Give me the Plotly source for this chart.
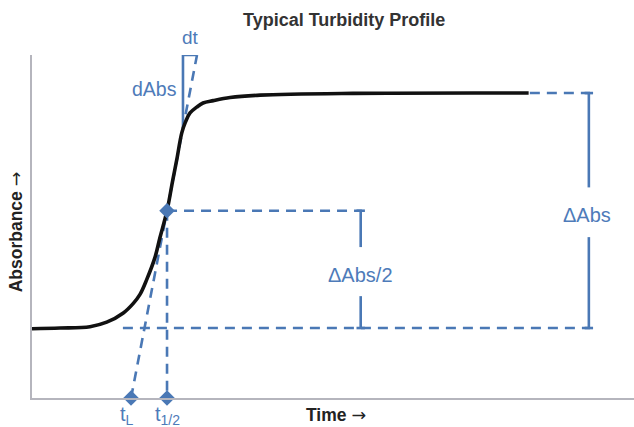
import plotly.graph_objects as go

# ---- data ----
time = [0, 4.65, 9.63, 12.41, 15.17, 16.83, 17.94, 19.05, 20.43, 21.26, 22.43, 23.39, 24.04,
        24.88, 25.5, 26.25, 27.36, 28.41, 30.12, 32.9, 37.9, 53.3, 82.5]
absorbance = [0.202, 0.204, 0.208, 0.221, 0.248, 0.276, 0.302, 0.345, 0.41, 0.468, 0.546, 0.636, 0.694,
              0.773, 0.805, 0.831, 0.848, 0.860, 0.867, 0.876, 0.883, 0.888, 0.889]

t_lag = 16.45        # t_L
t_half = 22.43       # t_1/2
abs_base = 0.204     # baseline absorbance
abs_max = 0.889      # plateau absorbance
abs_half = 0.546     # half-way absorbance
dt_x = [25.08, 27.41]  # dt triangle: vertical leg x, tangent end x
dt_top = 1.0
bracket_full_x = 92.5
bracket_half_x = 54.6
line_end_x = 92.7
plateau_dash_start = 82.7
baseline_dash_start = 15.1
half_dash_end = 54.8

BLUE = "#4a78b5"
TXT_BLUE = "#4e7bb9"
FONT = "Liberation Sans, Arial, sans-serif"
ARROW = '<span style="font-family:DejaVu Sans;font-weight:normal">→</span>'

fig = go.Figure()

def seg(xs, ys, dash=None, width=2.6, color=BLUE):
    fig.add_trace(go.Scatter(
        x=xs, y=ys, mode="lines", hoverinfo="skip", showlegend=False,
        line=dict(color=color, width=width, dash=dash), cliponaxis=False))

D = "10px,7px"
# baseline, plateau and half dashed lines
seg([baseline_dash_start, line_end_x], [abs_base, abs_base], D)
seg([plateau_dash_start, line_end_x], [abs_max, abs_max], D)
seg([t_half, half_dash_end], [abs_half, abs_half], D)
# vertical dashed at t_1/2
seg([t_half, t_half], [abs_half, 0], D)
# tangent line
seg([t_lag, dt_x[1]], [0, dt_top], D)

# dt triangle legs (solid)
tan_y_at_leg = (dt_x[0] - t_lag) / (dt_x[1] - t_lag) * dt_top
seg([dt_x[0], dt_x[0], dt_x[1]], [tan_y_at_leg, dt_top, dt_top])

# Delta Abs bracket
cap = 0.7
seg([bracket_full_x, bracket_full_x], [abs_max, 0.614])
seg([bracket_full_x, bracket_full_x], [0.469, abs_base])
seg([bracket_full_x - cap, bracket_full_x + cap], [abs_max, abs_max])
seg([bracket_full_x - cap, bracket_full_x + cap], [abs_base, abs_base])
# Delta Abs/2 bracket
seg([bracket_half_x, bracket_half_x], [abs_half, 0.440])
seg([bracket_half_x, bracket_half_x], [0.297, abs_base])
seg([bracket_half_x - cap, bracket_half_x + cap], [abs_half, abs_half])
seg([bracket_half_x - cap, bracket_half_x + cap], [abs_base, abs_base])

# turbidity curve
fig.add_trace(go.Scatter(
    x=time, y=absorbance, mode="lines",
    line=dict(color="#111111", width=3.6, shape="spline", smoothing=1.0),
    hoverinfo="skip", showlegend=False))

# diamonds
fig.add_trace(go.Scatter(
    x=[t_lag, t_half, t_half], y=[0, 0, abs_half], mode="markers",
    marker=dict(symbol="diamond", size=12, color=BLUE), cliponaxis=False,
    hoverinfo="skip", showlegend=False))

ann = []
def label(text, x, y, size=19, xanchor="center", yanchor="middle", color=TXT_BLUE, **kw):
    ann.append(dict(text=text, x=x, y=y, showarrow=False, xanchor=xanchor, yanchor=yanchor,
                    font=dict(family=FONT, size=size, color=color), **kw))

label("dAbs", 24.4, 0.901, size=19.5, xanchor="right")
label("dt", 0.263, 1.05, xref="paper", yref="paper")
label("ΔAbs", 92.2, 0.534, size=20)
label("ΔAbs/2", 54.5, 0.359, size=20)
label("t<sub>L</sub>", t_lag - 0.6, 0, size=20, yanchor="top", yshift=-3)
label("t<sub>1/2</sub>", t_half, 0, size=20, yanchor="top", yshift=-3)
label("<b>Time</b> " + ARROW, 0.505, -0.05, size=17.5, color="#222222", xref="paper", yref="paper")
label("<b>Absorbance</b> " + ARROW, -0.026, 0.484, size=17.5, color="#222222",
      xref="paper", yref="paper", textangle=-90)
label("<b>Typical Turbidity Profile</b>", 0.518, 1.102, size=18, color="#333333", xref="paper", yref="paper")

fig.update_layout(
    width=634, height=427,
    margin=dict(l=32, r=0, t=55, b=29),
    paper_bgcolor="white", plot_bgcolor="white",
    annotations=ann,
    xaxis=dict(range=[0, 100], showgrid=False, zeroline=False, showticklabels=False, ticks="",
               showline=True, linecolor="#b5b5bd", linewidth=2),
    yaxis=dict(range=[0, 1.0], showgrid=False, zeroline=False, showticklabels=False, ticks="",
               showline=True, linecolor="#b5b5bd", linewidth=2),
)

fig.write_html("out.html")
